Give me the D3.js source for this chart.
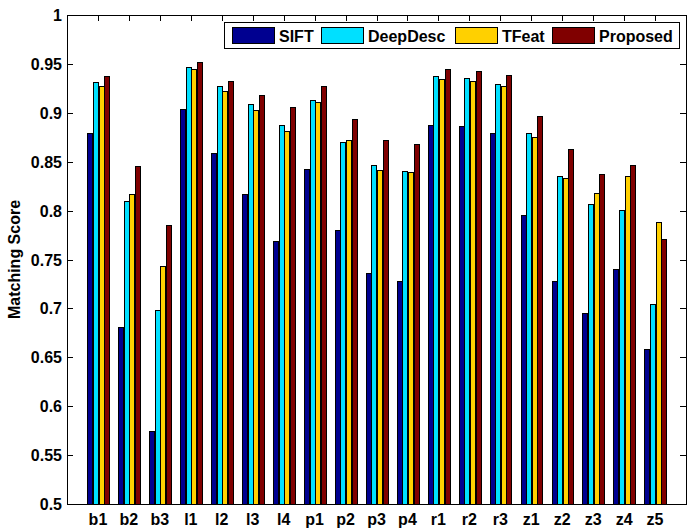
<!DOCTYPE html>
<html>
<head>
<meta charset="utf-8">
<script src="https://cdn.jsdelivr.net/npm/d3@7"></script>
<style>
  body { margin: 0; background: #fff; }
  svg text { font-family: "Liberation Sans", Arial, sans-serif; font-weight: bold; font-size: 16px; }
</style>
</head>
<body>
<figure id="bars" style="margin:0"></figure>
<script>
const categories = ["b1","b2","b3","l1","l2","l3","l4","p1","p2","p3","p4","r1","r2","r3","z1","z2","z3","z4","z5"];
const seriesNames = ["SIFT", "DeepDesc", "TFeat", "Proposed"];
const sift     = [0.879,0.681,0.575,0.904,0.859,0.817,0.769,0.843,0.780,0.736,0.728,0.888,0.886,0.879,0.796,0.728,0.695,0.740,0.658];
const deepDesc = [0.932,0.810,0.698,0.947,0.927,0.909,0.888,0.913,0.870,0.847,0.840,0.938,0.936,0.929,0.879,0.835,0.807,0.801,0.705];
const tFeat    = [0.927,0.817,0.743,0.945,0.922,0.903,0.881,0.911,0.872,0.842,0.839,0.935,0.933,0.927,0.875,0.833,0.818,0.835,0.788];
const proposed = [0.938,0.846,0.785,0.952,0.933,0.918,0.906,0.927,0.894,0.872,0.868,0.945,0.943,0.939,0.897,0.863,0.837,0.847,0.771];
const yTicks = [0.5,0.55,0.6,0.65,0.7,0.75,0.8,0.85,0.9,0.95,1];
const colors = ["#000090", "#00e0ff", "#ffd000", "#800000"];

const series = [sift, deepDesc, tFeat, proposed];
const W = 696, H = 529;
const plotL = 67, plotR = 686, plotT = 15, plotB = 504;

const svg = d3.select("figure#bars")
  .append("svg")
  .attr("width", W)
  .attr("height", H)
  .attr("shape-rendering", "crispEdges");

// MATLAB style: categories sit at 1..19 on a 0..20 axis
const x = d3.scaleLinear().domain([0, categories.length + 1]).range([plotL, plotR]);
const y = d3.scaleLinear().domain([0.5, 1]).range([plotB, plotT]);

const tickLen = 6;

// Ticks (drawn under the bars)
const ticks = svg.append("g").attr("stroke", "#000");
categories.forEach((c, i) => {
  const px = Math.round(x(i + 1)) + 0.5;
  ticks.append("line").attr("x1", px).attr("x2", px).attr("y1", plotB).attr("y2", plotB - tickLen);
  ticks.append("line").attr("x1", px).attr("x2", px).attr("y1", plotT).attr("y2", plotT + tickLen);
});
yTicks.forEach(t => {
  const py = Math.round(y(t)) + 0.5;
  ticks.append("line").attr("x1", plotL).attr("x2", plotL + tickLen).attr("y1", py).attr("y2", py);
  ticks.append("line").attr("x1", plotR).attr("x2", plotR - tickLen).attr("y1", py).attr("y2", py);
});

// Bars
const groupW = 0.727;
const slot = groupW / series.length;
const barW = slot * 0.8;
series.forEach((vals, s) => {
  svg.append("g")
    .selectAll("rect")
    .data(vals)
    .enter()
    .append("rect")
    .attr("x", (d, i) => Math.round(x(i + 1 - groupW / 2 + s * slot + (slot - barW) / 2)) + 0.5)
    .attr("width", Math.round(x(barW) - x(0)))
    .attr("y", d => Math.round(y(d)) + 0.5)
    .attr("height", d => Math.round(y(0.5)) - Math.round(y(d)))
    .attr("fill", colors[s])
    .attr("stroke", "#000")
    .attr("stroke-width", 1);
});

// Axes box
svg.append("rect")
  .attr("x", plotL + 0.5).attr("y", plotT + 0.5)
  .attr("width", plotR - plotL).attr("height", plotB - plotT)
  .attr("fill", "none").attr("stroke", "#000");

// Tick labels
svg.append("g")
  .selectAll("text")
  .data(yTicks)
  .enter()
  .append("text")
  .attr("x", plotL - 5)
  .attr("y", d => y(d) + 6)
  .attr("text-anchor", "end")
  .text(d => d3.format("")(d));

svg.append("g")
  .selectAll("text")
  .data(categories)
  .enter()
  .append("text")
  .attr("x", (d, i) => x(i + 1))
  .attr("y", 525)
  .attr("text-anchor", "middle")
  .text(d => d);

// Y label
svg.append("text")
  .attr("transform", "translate(20," + ((plotT + plotB) / 2) + ") rotate(-90)")
  .attr("text-anchor", "middle")
  .text("Matching Score");

// Legend
const legend = svg.append("g");
legend.append("rect")
  .attr("x", 224.5).attr("y", 22.5).attr("width", 455).attr("height", 26)
  .attr("fill", "#fff").attr("stroke", "#000");
const legendX = [232, 321, 455, 552];
seriesNames.forEach((n, s) => {
  legend.append("rect")
    .attr("x", legendX[s] + 0.5).attr("y", 27.5).attr("width", 42).attr("height", 16)
    .attr("fill", colors[s]).attr("stroke", "#000");
  legend.append("text")
    .attr("x", legendX[s] + 47).attr("y", 42)
    .text(n);
});
</script>
</body>
</html>
